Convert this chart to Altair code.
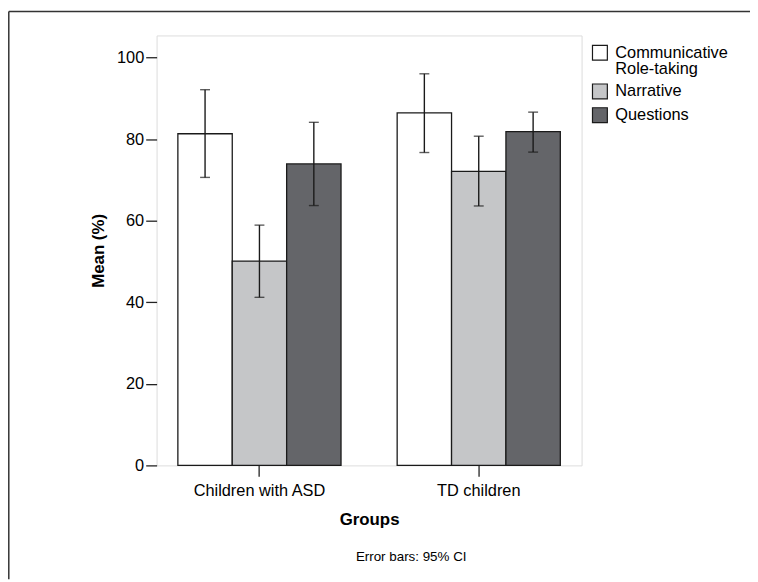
import altair as alt
import pandas as pd

groups = ["Children with ASD", "TD children"]
conditions = ["Communicative Role-taking", "Narrative", "Questions"]
means_asd = [81.3, 50.1, 73.9]
means_td = [86.4, 72.1, 81.8]
lo_asd = [70.6, 41.2, 63.7]
hi_asd = [92.1, 58.9, 84.1]
lo_td = [76.7, 63.6, 76.8]
hi_td = [96.0, 80.7, 86.6]
colors = ["#ffffff", "#c5c6c8", "#646569"]

rows = []
for g, means, los, his in [(groups[0], means_asd, lo_asd, hi_asd), (groups[1], means_td, lo_td, hi_td)]:
    for c, m, lo, hi in zip(conditions, means, los, his):
        rows.append({"Group": g, "Condition": c, "Mean": m, "lo": lo, "hi": hi})
df = pd.DataFrame(rows)

FONT = "Liberation Sans"
W, H = 429, 434

x_enc = alt.X("Group:N", sort=groups,
              scale=alt.Scale(paddingInner=0.256, paddingOuter=0.097),
              axis=alt.Axis(title="Groups", labelAngle=0, labelFontSize=16.5, labelFont=FONT,
                            labelColor="#000", titleFont=FONT, titleFontSize=17, titleFontWeight="bold",
                            titleColor="#000", tickSize=11, tickColor="#222", labelPadding=6,
                            titlePadding=13, domain=False, tickWidth=1.3))
xoff = alt.XOffset("Condition:N", sort=conditions, scale=alt.Scale(paddingInner=0, paddingOuter=0))

base = alt.Chart(df)

bars = base.mark_bar(stroke="#1a1a1a", strokeWidth=1.3).encode(
    x=x_enc,
    xOffset=xoff,
    y=alt.Y("Mean:Q", scale=alt.Scale(domain=[0, 105.4], nice=False),
            axis=alt.Axis(title="Mean (%)", values=[0, 20, 40, 60, 80, 100], grid=False,
                          labelFontSize=16.5, labelFont=FONT, labelColor="#000",
                          titleFont=FONT, titleFontSize=17, titleFontWeight="bold", titleColor="#000",
                          tickSize=11, tickColor="#222", tickWidth=1.3, labelPadding=2,
                          titlePadding=9, domain=False)),
    fill=alt.Fill("Condition:N", sort=conditions,
                  scale=alt.Scale(domain=conditions, range=colors),
                  legend=alt.Legend(title=None, orient="none", legendX=439, legendY=9,
                                    symbolType="square", symbolSize=225, symbolStrokeColor="#1a1a1a",
                                    symbolStrokeWidth=1.2, labelFont=FONT, labelFontSize=16.5,
                                    labelColor="#000", labelOffset=7, rowPadding=3,
                                    labelExpr="datum.label == 'Communicative Role-taking' ? ['Communicative','Role-taking'] : datum.label")),
)

rules = base.mark_rule(color="#1a1a1a", strokeWidth=1.4).encode(
    x=alt.X("Group:N", sort=groups), xOffset=xoff,
    y="lo:Q", y2="hi:Q",
)

caps = base.transform_fold(["lo", "hi"], as_=["which", "val"]).mark_tick(
    color="#1a1a1a", thickness=1.4, size=10
).encode(
    x=alt.X("Group:N", sort=groups), xOffset=xoff,
    y=alt.Y("val:Q"),
)

one = pd.DataFrame({"a": [0]})
frame_left = alt.Chart(one).mark_rule(color="#333", strokeWidth=1.5).encode(
    x=alt.value(-149.2), y=alt.value(-24.2), y2=alt.value(H + 115))
frame_top = alt.Chart(one).mark_rule(color="#333", strokeWidth=1.5).encode(
    x=alt.value(-149.2), x2=alt.value(W + 170), y=alt.value(-24.2))
note = alt.Chart(one).mark_text(font=FONT, fontSize=13.5, color="#000", baseline="alphabetic").encode(
    x=alt.value(257), y=alt.value(531), text=alt.value("Error bars: 95% CI"))

chart = alt.layer(bars, rules, caps, frame_left, frame_top, note).properties(
    width=W, height=H,
    autosize=alt.AutoSizeParams(type="none"),
    padding={"left": 150, "top": 25, "right": 170, "bottom": 115},
).configure_view(stroke="#444", strokeWidth=1.5).configure(
    background="white", style={"guide-label": {"lineHeight": 16.5}}
)

chart.save("out.html", embed_options={"renderer": "svg", "actions": False})
